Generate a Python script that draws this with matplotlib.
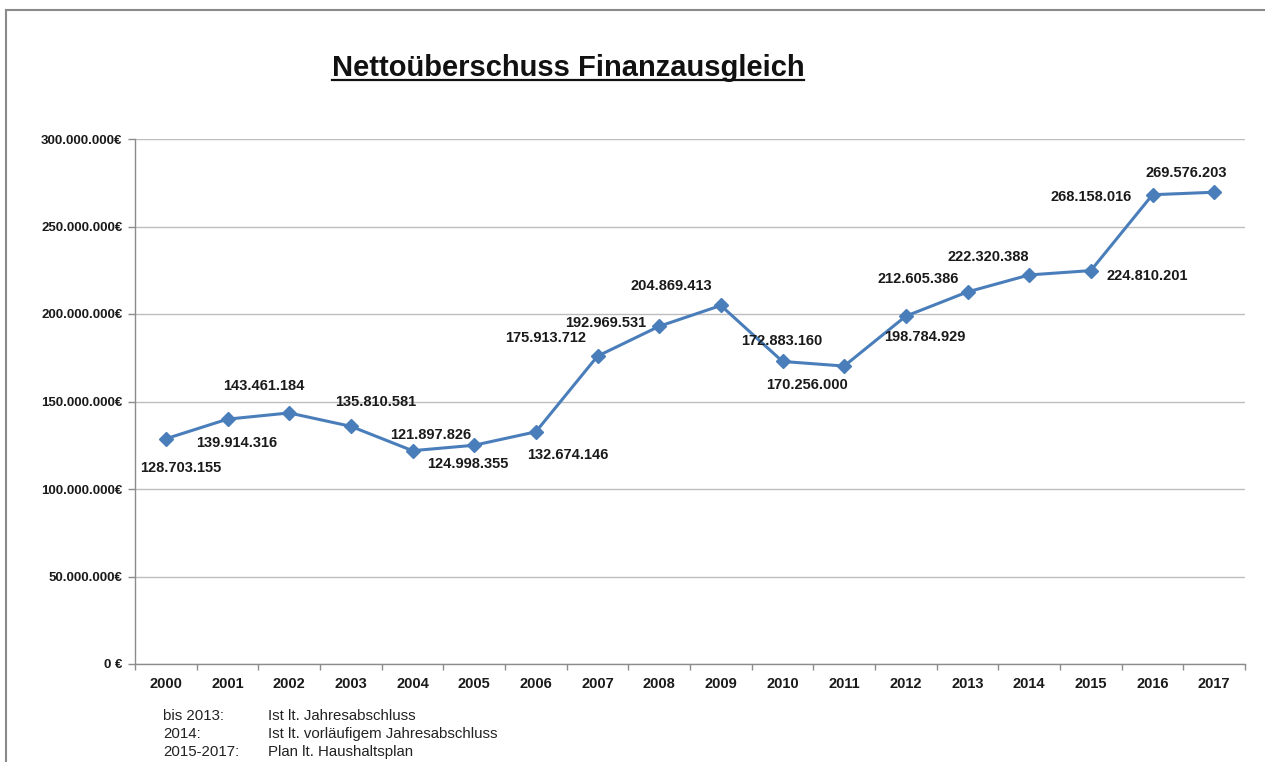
import numpy as np
import matplotlib
matplotlib.use("Agg")
import matplotlib.pyplot as plt
from matplotlib.lines import Line2D
from matplotlib.ticker import FuncFormatter, FixedLocator

plt.rcParams['font.family'] = ['Liberation Sans', 'DejaVu Sans']

# data
years = ['2000', '2001', '2002', '2003', '2004', '2005', '2006', '2007', '2008',
         '2009', '2010', '2011', '2012', '2013', '2014', '2015', '2016', '2017']
ueberschuss = [128703155, 139914316, 143461184, 135810581, 121897826, 124998355,
               132674146, 175913712, 192969531, 204869413, 172883160, 170256000,
               198784929, 212605386, 222320388, 224810201, 268158016, 269576203]
y_ticks = [0, 50000000, 100000000, 150000000, 200000000, 250000000, 300000000]
footnote_left = ['bis 2013:', '2014:', '2015-2017:']
footnote_right = ['Ist lt. Jahresabschluss', 'Ist lt. vorläufigem Jahresabschluss',
                  'Plan lt. Haushaltsplan']

# label placement, pixel offsets (dx right, dy down) from the marker
label_dx = [15, 9, -25, 25, 18, -6, 32, -52, -53, -50, -1, -37, 19, -49, -41, 56, -61, -28]
label_dy = [29, 24, -27, -24, -16, 19, 23, -18, -3, -19, -20, 19, 21, -13, -18, 5, 2, -19]

LINE_COL = '#4A7EBB'
GRID_COL = '#BDBDBD'
AXIS_COL = '#8C8C8C'

W, H = 1265, 762
fig = plt.figure(figsize=(W / 100, H / 100), dpi=100)
ax = fig.add_axes([135 / W, 1 - 664 / H, (1245 - 135) / W, (664 - 139) / H])

x = np.arange(len(years))
ax.plot(x, ueberschuss, color=LINE_COL, lw=2.2, marker='D', ms=7,
        mfc=LINE_COL, mec=LINE_COL, zorder=3)

def de_num(v):
    return f"{int(round(v)):,}".replace(",", ".")

for i, v in enumerate(ueberschuss):
    ax.annotate(de_num(v), (x[i], v), xytext=(label_dx[i], -label_dy[i]),
                textcoords='offset pixels', ha='center', va='center',
                fontsize=10.5, fontweight='bold', color='#1a1a1a', zorder=4)

ax.set_xlim(-0.5, len(years) - 0.5)
ax.set_ylim(0, 300000000)
ax.yaxis.set_major_locator(FixedLocator(y_ticks))
ax.yaxis.set_major_formatter(FuncFormatter(
    lambda v, p: "0 €" if v == 0 else de_num(v) + "€"))
ax.set_xticks(x)
ax.set_xticklabels(years)
ax.set_xticks(np.arange(-0.5, len(years)), minor=True)

ax.grid(axis='y', color=GRID_COL, lw=1)
ax.set_axisbelow(True)
for s in ['top', 'right']:
    ax.spines[s].set_visible(False)
for s in ['left', 'bottom']:
    ax.spines[s].set_color(AXIS_COL)
    ax.spines[s].set_linewidth(1)

ax.tick_params(axis='y', length=5, width=1, color=AXIS_COL, pad=4,
               labelsize=9.5, labelcolor='#1a1a1a')
ax.tick_params(axis='x', which='major', length=0, pad=9,
               labelsize=10.5, labelcolor='#1a1a1a')
ax.tick_params(axis='x', which='minor', length=4, width=1, color=AXIS_COL)
for lab in ax.get_xticklabels() + ax.get_yticklabels():
    lab.set_fontweight('bold')

# title with underline
title = fig.text(568 / W, 1 - 76 / H, 'Nettoüberschuss Finanzausgleich',
                 ha='center', va='baseline', fontsize=21, fontweight='bold',
                 color='#111111')
fig.canvas.draw()
bb = title.get_window_extent(renderer=fig.canvas.get_renderer())
uy = 1 - 79.5 / H
fig.add_artist(Line2D([bb.x0 / W, bb.x1 / W], [uy, uy], color='#111111', lw=1.6))

# footnote
for k, (a, b) in enumerate(zip(footnote_left, footnote_right)):
    yy = 1 - (716 + k * 17.8) / H
    fig.text(163 / W, yy, a, ha='left', va='center', fontsize=10.8, color='#222222')
    fig.text(268 / W, yy, b, ha='left', va='center', fontsize=10.8, color='#222222')

# outer frame (left and top edges visible)
fig.add_artist(Line2D([6 / W, 6 / W], [0, 1 - 10 / H], color='#8a8a8a', lw=1.5))
fig.add_artist(Line2D([6 / W, 1], [1 - 10 / H, 1 - 10 / H], color='#8a8a8a', lw=1.5))

fig.savefig('out.png', dpi=100)
